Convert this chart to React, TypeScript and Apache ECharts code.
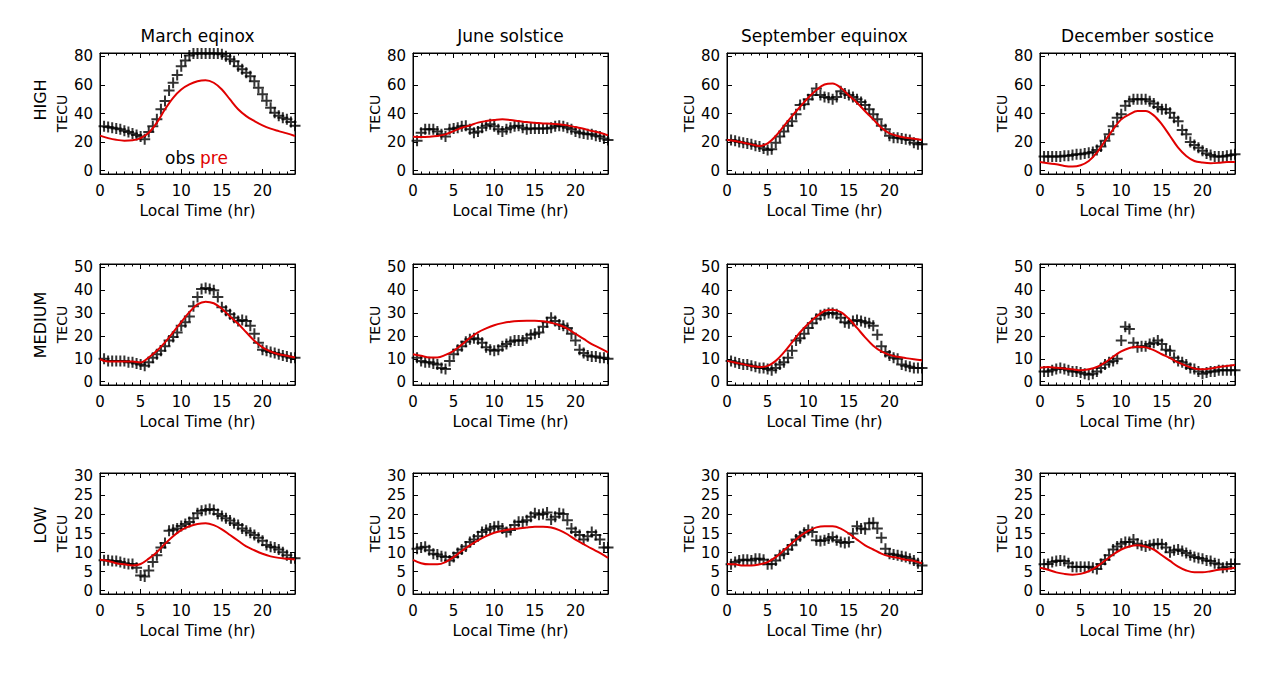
import React, { useEffect, useRef } from "react";
import * as echarts from "echarts";

// ---------------- data ----------------
const seasonTitles = ["March eqinox", "June solstice", "September equinox", "December sostice"];
const activityLevels = ["HIGH", "MEDIUM", "LOW"];
const xTickValues = [0, 5, 10, 15, 20];
const yTickValues = [
  [0, 20, 40, 60, 80],
  [0, 10, 20, 30, 40, 50],
  [0, 5, 10, 15, 20, 25, 30],
];
const yRanges = [
  [-2.3, 82.3],
  [-1.45, 51.45],
  [-0.88, 30.88],
];

const obsHours = [
  0.5, 1, 1.5, 2, 2.5, 3, 3.5, 4, 4.5, 5, 5.5, 6, 6.5, 7, 7.5, 8, 8.5, 9, 9.5, 10, 10.5, 11, 11.5, 12,
  12.5, 13, 13.5, 14, 14.5, 15, 15.5, 16, 16.5, 17, 17.5, 18, 18.5, 19, 19.5, 20, 20.5, 21, 21.5, 22, 22.5, 23, 23.5, 24,
];
const preHours = [0, 1, 2, 3, 4, 5, 6, 7, 8, 9, 10, 11, 12, 13, 14, 15, 16, 17, 18, 19, 20, 21, 22, 23, 24];

// HIGH activity
const obsHighMar = [31, 30.5, 30, 29.5, 29, 28, 27, 26, 25, 24, 22, 27, 31, 36, 43, 48.7, 56, 61.5, 67, 73, 77, 80.5, 82, 82, 82, 82, 82, 82, 82, 81.5, 80, 78, 76.5, 73, 71, 68.5, 66, 62.5, 58, 53.5, 49, 44, 40.5, 38.5, 37, 36, 34, 31.5];
const obsHighJun = [21, 26.5, 29, 29, 29, 27.5, 25.5, 24, 29, 29.5, 30, 31, 31.5, 29, 26.5, 27.5, 30, 31.5, 32.5, 31, 29, 27.5, 29, 30, 31, 31.5, 30, 29, 29.5, 29.5, 29.5, 29.5, 29.5, 30, 31, 31.5, 31, 30, 29, 27.5, 26.5, 26, 25.5, 25.5, 24.5, 24, 22.5, 21.5];
const obsHighSep = [21.5, 21, 20, 19.5, 19, 18.5, 17.5, 17, 15.5, 14.5, 15, 19.5, 24, 27.5, 31.5, 34.5, 39.5, 46, 46.5, 50, 53, 57.5, 53, 51.5, 51, 50, 51.5, 55.5, 54, 53, 51.5, 50, 48, 46, 43, 39.5, 36, 31.5, 29, 24.5, 23, 23, 22.5, 22, 21.5, 19.5, 18.5, 18.5];
const obsHighDec = [10, 10, 10, 10, 10, 10.5, 10.5, 11, 11.5, 11.5, 12, 12.5, 13, 14.5, 17, 21, 25.5, 31, 37, 39.5, 45.5, 48.5, 50, 50, 50, 50, 48.5, 47, 44.5, 43, 43, 40.5, 37, 34.5, 28.5, 25.5, 20, 18, 16, 14, 12, 11, 10, 10, 10, 10.5, 11, 11.5];
const preHighMar = [24.5, 22.8, 21.6, 21, 21.3, 22.8, 26.5, 33.6, 43, 51, 56.8, 60.3, 62.6, 63.3, 61.5, 56.8, 49.8, 43, 38.2, 34.7, 31.7, 29.4, 27.7, 26.1, 24.3];
const preHighJun = [23.8, 23.6, 23.8, 24.3, 25.4, 27.7, 30, 31.7, 33.6, 34.7, 35.4, 35.9, 35.4, 34.7, 34, 33.6, 33, 32.9, 32.4, 31.7, 30.5, 29.4, 27.7, 26.6, 24.7];
const preHighSep = [21.5, 20.8, 19.6, 18.4, 17.3, 19.1, 24.3, 31.2, 38.2, 44.7, 51, 56.4, 60.3, 61, 58, 52.6, 47.5, 41.6, 35.9, 30, 26.1, 24.3, 23.1, 22.4, 21.5];
const preHighDec = [6.1, 5.2, 4.5, 3.3, 2.9, 3.8, 6.8, 12.6, 20.8, 28.9, 35.9, 39.4, 41.7, 41.7, 38.7, 32.4, 24.3, 16.1, 10.3, 6.8, 5.7, 5.2, 5.5, 6.1, 6.1];

// MEDIUM activity
const obsMedMar = [10, 9, 9, 9, 9, 9, 8.5, 8.5, 8, 7.5, 7, 8.5, 10.5, 12, 13.5, 15.5, 18, 19.5, 21.5, 24.5, 26, 28.5, 33, 37, 40.5, 41, 40.5, 40, 37, 32.5, 31, 29.5, 28, 26.5, 27, 26.5, 24.5, 21, 17, 14, 13.5, 13, 12.5, 12, 11.5, 11, 10.5, 10.5];
const obsMedJun = [10.5, 9, 8.5, 8.5, 8, 7.5, 6, 5.5, 9, 12, 14, 15.5, 17.5, 18.5, 19, 18.5, 17, 15, 14, 13.5, 14, 15.5, 16.5, 17.5, 18, 18, 18, 19, 20.5, 21, 21.5, 24, 26, 28, 26.5, 25, 24.5, 23.5, 21, 18, 14, 12.5, 11.5, 11, 11, 10.5, 10.5, 10];
const obsMedSep = [9, 8.5, 8, 7.5, 7.5, 7, 6.5, 6, 6, 5.5, 5, 6, 7.5, 8.5, 10.5, 13.5, 18, 19, 21, 23.5, 25.5, 27.5, 29, 29.5, 30, 30, 29.5, 28, 26, 25.5, 26.5, 27, 26.5, 26, 25.5, 24.5, 20.5, 15.5, 13, 11.5, 10.5, 10, 7.5, 7, 6.5, 6, 6, 6];
const obsMedDec = [4.5, 4.5, 5, 5.5, 6, 5.5, 5, 4.5, 4.5, 4, 3.5, 3, 3.5, 4.5, 6, 7.5, 8.5, 9, 10, 18, 24, 23, 17, 15, 15.5, 15.5, 16.5, 17, 18, 16.5, 14, 13.5, 10.5, 9, 8.5, 7.5, 6, 5.5, 4.5, 3.5, 4, 4.5, 4.5, 5, 5, 5, 5, 5];
const preMedMar = [9.8, 8.8, 8.8, 8.8, 8.8, 8.4, 10.6, 13.5, 17.2, 21.6, 26, 30.4, 33.8, 35, 34.3, 31.9, 28.5, 25.3, 21.6, 17.9, 15, 13.2, 12, 11.3, 10.6];
const preMedJun = [12, 11.3, 10.6, 10.6, 11.7, 13.5, 16.2, 19.1, 21.6, 23.3, 24.7, 25.6, 26.2, 26.5, 26.6, 26.6, 26.4, 25.8, 24.8, 23.2, 20.9, 18.7, 16.4, 14.7, 12.8];
const preMedSep = [9.1, 8.4, 7.6, 6.9, 6.4, 6.9, 9.1, 12.8, 17.2, 21.6, 25.3, 28.5, 30.9, 31.5, 30.4, 27.5, 23.5, 19.4, 15.7, 13.2, 11.7, 10.9, 10.3, 9.8, 9.4];
const preMedDec = [6.1, 6.4, 6.1, 5.8, 5.4, 5, 5.4, 6.4, 8.4, 10.9, 13.2, 14.7, 15.3, 15, 13.8, 12, 10.3, 8.4, 6.9, 5.8, 5.4, 5.8, 6.4, 6.9, 7.3];

// LOW activity
const obsLowMar = [8, 8, 7.8, 7.8, 7.5, 7.2, 7, 7, 6, 4, 3.7, 5.3, 7.5, 9.3, 11.3, 12.5, 15.7, 16, 16.3, 17, 17.5, 18, 19, 20.3, 21, 21.2, 21.4, 21.2, 20.1, 19.6, 19, 18.4, 17.7, 17.2, 16.3, 15.7, 15.2, 14.6, 13.9, 13.1, 12, 11.5, 11.3, 10.8, 10.1, 9.3, 8.5, 8.5];
const obsLowJun = [11, 11.3, 11.5, 10.6, 9.7, 9.5, 9, 8.8, 7.9, 8.8, 9.9, 10.8, 11.6, 12.8, 13.4, 14.3, 15.4, 15.9, 16.3, 16.8, 16.9, 16.3, 15.4, 15.9, 17.2, 18.1, 18.1, 18.5, 19.4, 20.3, 19.9, 20.1, 20.5, 18.7, 19.4, 20.3, 20.1, 18.5, 16.3, 15.4, 14.6, 13.4, 14.3, 15.4, 14.6, 13.4, 11.3, 11.3];
const obsLowSep = [6.9, 7.5, 7.9, 8.1, 8.1, 7.9, 8.4, 8.4, 8.1, 6.9, 7, 7.9, 9.3, 9.7, 10.8, 11.9, 13.4, 14.3, 15.2, 15.9, 15.4, 13.2, 13, 13.2, 13.7, 14.1, 13.2, 12.8, 12.5, 12.8, 15, 16.9, 16.3, 16.1, 17.7, 17.8, 16.3, 13.9, 11, 9.7, 9.5, 9.3, 9, 8.8, 8.4, 7.9, 7.2, 6.6];
const obsLowDec = [6.9, 7, 7.5, 7.8, 7.9, 7.8, 7.2, 6.3, 6.2, 6.3, 6.2, 6.3, 6, 5.7, 7, 8.1, 9.3, 10.8, 11.6, 12.3, 12.8, 12.8, 13.4, 12.3, 11.9, 11.6, 11.9, 12.2, 12.3, 12.2, 11.3, 10.1, 10.6, 10.8, 10.4, 9.9, 9.3, 8.8, 8.6, 8.4, 7.9, 7.8, 7.2, 6.9, 6, 6.3, 7, 7];
const preLowMar = [8.1, 7.8, 7.2, 6.9, 6.6, 7, 8.4, 10.1, 12.3, 14.3, 15.9, 16.9, 17.5, 17.7, 17.2, 16.1, 14.6, 13.1, 11.6, 10.6, 9.7, 9, 8.6, 8.4, 8.2];
const preLowJun = [8.1, 7.2, 6.9, 6.9, 7.5, 8.8, 10.4, 11.9, 13.2, 14.3, 15.2, 15.7, 16.1, 16.3, 16.6, 16.8, 16.8, 16.6, 15.9, 14.8, 13.4, 12.2, 11, 9.9, 8.6];
const preLowSep = [7, 6.9, 6.6, 6.6, 6.9, 7.5, 8.8, 10.6, 12.5, 14.3, 15.7, 16.6, 16.9, 16.9, 16.3, 15, 13.4, 11.9, 10.8, 9.7, 9, 8.6, 8.1, 7.8, 7.2];
const preLowDec = [6, 5.5, 4.8, 4.4, 4.2, 4.4, 5.1, 6.3, 7.9, 9.5, 10.8, 11.6, 11.9, 11.6, 10.8, 9.3, 7.8, 6.3, 5.3, 4.8, 4.8, 5.1, 5.5, 5.7, 6];

const obsTable = [
  [obsHighMar, obsHighJun, obsHighSep, obsHighDec],
  [obsMedMar, obsMedJun, obsMedSep, obsMedDec],
  [obsLowMar, obsLowJun, obsLowSep, obsLowDec],
];
const preTable = [
  [preHighMar, preHighJun, preHighSep, preHighDec],
  [preMedMar, preMedJun, preMedSep, preMedDec],
  [preLowMar, preLowJun, preLowSep, preLowDec],
];

// ---------------- layout / style ----------------
const FONT = "DejaVu Sans";
const GRID_LEFT = [100, 413, 727, 1040];
const GRID_TOP = [53, 264, 473];
const GRID_W = 195;
const GRID_H = 121;
const ROW_LABEL_Y = [100, 325, 525];
const RED = "#e00000";
const PLUS = "path://M0,5L10,5M5,0L5,10";

function buildOption() {
  const grid: any[] = [];
  const xAxis: any[] = [];
  const yAxis: any[] = [];
  const series: any[] = [];
  const graphic: any[] = [];
  const tickLine = { color: "#000", width: 1 };

  activityLevels.forEach((lvl, r) => {
    seasonTitles.forEach((title, c) => {
      const i = r * 4 + c;
      grid.push({
        left: GRID_LEFT[c],
        top: GRID_TOP[r],
        width: GRID_W,
        height: GRID_H,
        show: true,
        borderColor: "#000",
        borderWidth: 1,
        backgroundColor: "transparent",
      });
      xAxis.push({
        gridIndex: i,
        type: "value",
        position: "bottom",
        min: 0,
        max: 24,
        interval: 5,
        axisLine: { show: true, onZero: false, lineStyle: tickLine },
        axisTick: { show: true, inside: true, length: 5, lineStyle: tickLine },
        minorTick: { show: true, splitNumber: 5, length: 2.5, lineStyle: tickLine },
        axisLabel: {
          color: "#000",
          fontFamily: FONT,
          fontSize: 15,
          margin: 9,
          customValues: xTickValues,
        },
        splitLine: { show: false },
        name: "Local Time (hr)",
        nameLocation: "middle",
        nameGap: 29,
        nameTextStyle: { color: "#000", fontFamily: FONT, fontSize: 15.5 },
      });
      xAxis.push({
        gridIndex: i,
        type: "value",
        position: "top",
        min: 0,
        max: 24,
        interval: 5,
        axisLine: { show: true, onZero: false, lineStyle: tickLine },
        axisTick: { show: true, inside: true, length: 5, lineStyle: tickLine },
        minorTick: { show: true, splitNumber: 5, length: 2.5, lineStyle: tickLine },
        axisLabel: { show: false },
        splitLine: { show: false },
      });
      const yCommon = {
        gridIndex: i,
        type: "value",
        min: yRanges[r][0],
        max: yRanges[r][1],
        splitLine: { show: false },
        axisLine: { show: true, onZero: false, lineStyle: tickLine },
        axisTick: { show: true, inside: true, length: 5, lineStyle: tickLine, customValues: yTickValues[r] },
      };
      yAxis.push({
        ...yCommon,
        position: "left",
        axisLabel: {
          color: "#000",
          fontFamily: FONT,
          fontSize: 15,
          margin: 7,
          customValues: yTickValues[r],
        },
      });
      yAxis.push({
        ...yCommon,
        position: "right",
        axisLabel: { show: false },
      });

      series.push({
        type: "scatter",
        xAxisIndex: i * 2,
        yAxisIndex: i * 2,
        data: obsHours.map((h, k) => [h, obsTable[r][c][k]]),
        symbol: PLUS,
        symbolSize: 11,
        itemStyle: { color: "rgba(0,0,0,0)", borderColor: "#000", borderWidth: 2 },
        silent: true,
        z: 3,
      });
      series.push({
        type: "line",
        xAxisIndex: i * 2,
        yAxisIndex: i * 2,
        data: preHours.map((h, k) => [h, preTable[r][c][k]]),
        smooth: 0.35,
        showSymbol: false,
        lineStyle: { color: RED, width: 2 },
        silent: true,
        z: 4,
      });

      // TECU label
      graphic.push({
        type: "text",
        x: GRID_LEFT[c] - 38,
        y: GRID_TOP[r] + GRID_H / 2,
        rotation: Math.PI / 2,
        style: {
          text: "TECU",
          fill: "#000",
          font: `14px "${FONT}"`,
          align: "center",
          verticalAlign: "middle",
        },
      });
    });
    graphic.push({
      type: "text",
      x: 40,
      y: ROW_LABEL_Y[r],
      rotation: Math.PI / 2,
      style: {
        text: lvl,
        fill: "#000",
        font: `16px "${FONT}"`,
        align: "center",
        verticalAlign: "middle",
      },
    });
  });

  seasonTitles.forEach((title, c) => {
    graphic.push({
      type: "text",
      x: GRID_LEFT[c] + GRID_W / 2,
      y: 36,
      style: {
        text: title,
        fill: "#000",
        font: `17px "${FONT}"`,
        align: "center",
        verticalAlign: "middle",
      },
    });
  });

  // legend text inside first panel
  graphic.push({
    type: "text",
    x: 165,
    y: 158,
    style: { text: "obs", fill: "#000", font: `17px "${FONT}"`, align: "left", verticalAlign: "middle" },
  });
  graphic.push({
    type: "text",
    x: 200,
    y: 158,
    style: { text: "pre", fill: RED, font: `17px "${FONT}"`, align: "left", verticalAlign: "middle" },
  });

  return {
    animation: false,
    backgroundColor: "#ffffff",
    grid,
    xAxis,
    yAxis,
    series,
    graphic,
  };
}

export default function App() {
  const ref = useRef<HTMLDivElement>(null);
  useEffect(() => {
    if (!ref.current) return;
    const chart = echarts.init(ref.current, undefined, { renderer: "svg" });
    chart.setOption(buildOption() as any);
    return () => chart.dispose();
  }, []);
  return (
    <div
      ref={ref}
      style={{ position: "fixed", left: 0, top: 0, width: 1264, height: 676, background: "#fff" }}
    />
  );
}
